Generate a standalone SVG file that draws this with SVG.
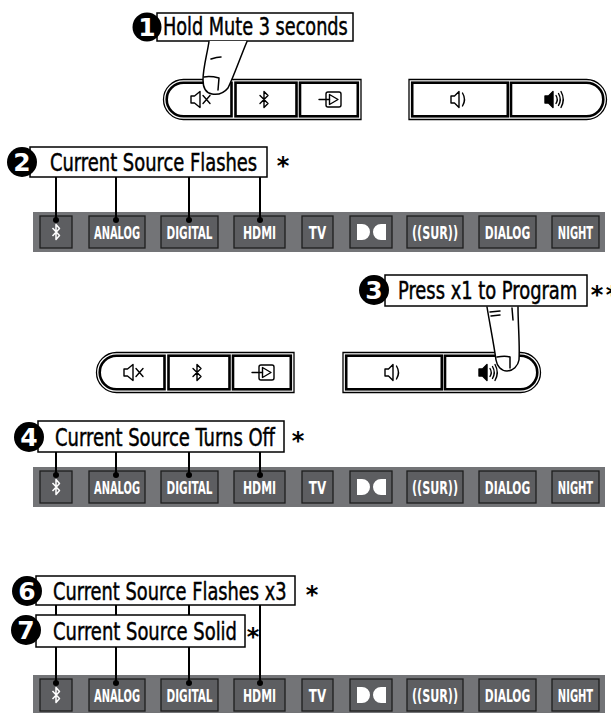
<svg xmlns="http://www.w3.org/2000/svg" xmlns:xlink="http://www.w3.org/1999/xlink" width="611" height="713" viewBox="0 0 611 713">
  <style>
    .lbl { fill:#fff; stroke:#000; stroke-width:1.5; }
    .lbltxt { font-family:"DejaVu Sans Condensed","DejaVu Sans",sans-serif; font-size:24px; fill:#000; stroke:#000; stroke-width:0.45; }
    .badge { fill:#000; }
    .num { font-family:"DejaVu Sans","Liberation Sans",sans-serif; font-weight:bold; font-size:25px; fill:#fff; text-anchor:middle; }
    .star { font-family:"DejaVu Sans",sans-serif; font-weight:bold; font-size:24px; fill:#000; text-anchor:middle; }
    .bar { fill:#737477; }
    .btn { fill:#5d5e61; stroke:#1e1e1e; stroke-width:1.3; }
    .btntxt { font-family:"DejaVu Sans Condensed","DejaVu Sans",sans-serif; font-weight:bold; font-size:18px; fill:#fff; text-anchor:middle; }
    .wicon { fill:none; stroke:#fff; stroke-width:1.5; stroke-linejoin:round; }
    .outer { fill:#fff; stroke:#000; stroke-width:1.3; }
    .key { fill:none; stroke:#000; stroke-width:2.6; }
    .icon { fill:none; stroke:#000; stroke-width:1.4; stroke-linejoin:round; stroke-linecap:round; }
    .wire { fill:none; stroke:#000; stroke-width:2; }
    .finger { fill:#fff; stroke:none; }
    .fline { fill:none; stroke:#000; stroke-width:1.5; stroke-linecap:round; stroke-linejoin:round; }
  </style>
  <defs>
    <!-- left keypad: mute, bluetooth, input -->
    <g id="padL">
      <path class="outer" d="M20.5,0 H198 V40 H20.5 A20 20 0 0 1 20.5,0 Z"/>
      <path class="key" d="M20.5,3.2 H68.5 V36.8 H20.5 A16.8 16.8 0 0 1 20.5,3.2 Z"/>
      <rect class="key" x="72.5" y="3.2" width="61" height="33.6"/>
      <rect class="key" x="137" y="3.2" width="57.8" height="33.6"/>
      <g class="icon" transform="translate(38,20)">
        <path d="M-10,-3.5 H-6.5 L-1,-8 V8 L-6.5,3.5 H-10 Z"/>
        <path d="M2,-4 L9,4 M9,-4 L2,4"/>
      </g>
      <path class="icon" transform="translate(101,20)" d="M-4,-4 L4,4 L0,8 V-8 L4,-4 L-4,4"/>
      <g class="icon" transform="translate(167,20)">
        <rect x="-4" y="-7.5" width="15" height="15" rx="2"/>
        <path d="M-0.5,-5 L8,0 L-0.5,5 Z"/>
        <path d="M-11,0 H-0.5"/>
      </g>
    </g>
    <!-- right keypad: volume down, volume up -->
    <g id="padR">
      <path class="outer" d="M0,0 H177.5 A20 20 0 0 1 177.5,40 H0 Z"/>
      <rect class="key" x="3.2" y="3.2" width="95.6" height="33.6"/>
      <path class="key" d="M102,3.2 H177.5 A16.8 16.8 0 0 1 177.5,36.8 H102 Z"/>
      <g class="icon" transform="translate(50,20)">
        <path d="M-8,-3.5 H-4.5 L0,-8 V8 L-4.5,3.5 H-8 Z"/>
        <path d="M3.5,-6.5 Q7.5,0 3.5,6.5"/>
      </g>
      <g class="icon" transform="translate(144,20)">
        <path d="M-8,-3.5 H-4.5 L0,-8 V8 L-4.5,3.5 H-8 Z" fill="#000"/>
        <path d="M3,-4 Q5.5,0 3,4 M5.5,-6 Q9,0 5.5,6 M8,-8 Q12.5,0 8,8"/>
      </g>
    </g>
    <!-- source indicator strip -->
    <g id="strip">
      <rect class="bar" x="33" y="0" width="572" height="40"/>
      <rect class="btn" x="40" y="4" width="32" height="32"/>
      <path class="wicon" transform="translate(56,20)" d="M-3.5,-4 L3.5,3.5 L0,7.5 V-7.5 L3.5,-3.5 L-3.5,4"/>
      <rect class="btn" x="89" y="4" width="56" height="32"/>
      <text class="btntxt" transform="translate(117,26.5) scale(0.72,1)" textLength="64" lengthAdjust="spacingAndGlyphs">ANALOG</text>
      <rect class="btn" x="161" y="4" width="57" height="32"/>
      <text class="btntxt" transform="translate(189.5,26.5) scale(0.72,1)" textLength="64" lengthAdjust="spacingAndGlyphs">DIGITAL</text>
      <rect class="btn" x="234" y="4" width="51" height="32"/>
      <text class="btntxt" transform="translate(259.5,26.5) scale(0.72,1)" textLength="46" lengthAdjust="spacingAndGlyphs">HDMI</text>
      <rect class="btn" x="302" y="4" width="31" height="32"/>
      <text class="btntxt" transform="translate(317.5,26.5) scale(0.72,1)" textLength="24" lengthAdjust="spacingAndGlyphs">TV</text>
      <rect class="btn" x="350" y="4" width="42" height="32"/>
      <path fill="#fff" d="M357,12 H362 A8 8 0 0 1 362,28 H357 Z M386,12 H381 A8 8 0 0 0 381,28 H386 Z"/>
      <rect class="btn" x="407" y="4" width="56" height="32"/>
      <text class="btntxt" transform="translate(435,26.5) scale(0.72,1)" textLength="64" lengthAdjust="spacingAndGlyphs">((SUR))</text>
      <rect class="btn" x="479" y="4" width="57" height="32"/>
      <text class="btntxt" transform="translate(507.5,26.5) scale(0.72,1)" textLength="63" lengthAdjust="spacingAndGlyphs">DIALOG</text>
      <rect class="btn" x="552" y="4" width="47" height="32"/>
      <text class="btntxt" transform="translate(575.5,26.5) scale(0.72,1)" textLength="49" lengthAdjust="spacingAndGlyphs">NIGHT</text>
    </g>
  </defs>

  <!-- keypads -->
  <g id="keypad-top-left"><use xlink:href="#padL" href="#padL" transform="translate(163,79.5)"/></g>
  <g id="keypad-top-right"><use xlink:href="#padR" href="#padR" transform="translate(409,79.5)"/></g>
  <g id="keypad-bottom-left"><use xlink:href="#padL" href="#padL" transform="translate(96,352.5)"/></g>
  <g id="keypad-bottom-right"><use xlink:href="#padR" href="#padR" transform="translate(343,352.5)"/></g>

  <!-- indicator strips -->
  <g id="strip-1"><use xlink:href="#strip" href="#strip" transform="translate(0,212)"/></g>
  <g id="strip-2"><use xlink:href="#strip" href="#strip" transform="translate(0,467)"/></g>
  <g id="strip-3"><use xlink:href="#strip" href="#strip" transform="translate(0,675)"/></g>

  <!-- connectors from labels to indicators -->
  <g id="connectors">
    <path class="wire" d="M56,177 V220 M116,177 V220 M189,177 V220 M260,177 V220"/>
    <g fill="#000"><circle cx="56" cy="220" r="3"/><circle cx="116" cy="220" r="3"/><circle cx="189" cy="220" r="3"/><circle cx="260" cy="220" r="3"/></g>
    <path class="wire" d="M56,452 V475 M116,452 V475 M189,452 V475 M260,452 V475"/>
    <g fill="#000"><circle cx="56" cy="475" r="3"/><circle cx="116" cy="475" r="3"/><circle cx="189" cy="475" r="3"/><circle cx="260" cy="475" r="3"/></g>
    <path class="wire" d="M56,605 V615 M116,605 V615 M189,605 V615 M260,605 V683 M56,647 V683 M116,647 V683 M189,647 V683"/>
    <g fill="#000"><circle cx="56" cy="683" r="3"/><circle cx="116" cy="683" r="3"/><circle cx="189" cy="683" r="3"/><circle cx="260" cy="683" r="3"/></g>
  </g>

  <!-- step 1 -->
  <g id="step-1">
    <rect class="lbl" x="157" y="13" width="196" height="28"/>
    <circle class="badge" cx="147" cy="27" r="14.5"/>
    <text class="num" x="147" y="36">1</text>
    <text class="lbltxt" transform="translate(163,35) scale(0.8,1)" textLength="231" lengthAdjust="spacingAndGlyphs">Hold Mute 3 seconds</text>
  </g>
  <!-- finger pressing mute -->
  <g id="finger-1">
    <path class="finger" d="M209,41 C207,55 203,68 203,80 C203,88 206,93 212,94 C218,95 224,93 228,88 C234,76 240,58 247,41 Z"/>
    <path class="fline" d="M209,41.5 C207,55 203,68 203,80 C203,88 206,93 212,94 C218,95 224,93 228,88 C234,76 240,58 247,41.5"/>
    <path class="fline" d="M204,77 C210,76 215,77 219,78 L218,90"/>
    <path class="fline" d="M211,59 C214,58 218,57 221,57"/>
  </g>

  <!-- step 2 -->
  <g id="step-2">
    <rect class="lbl" x="30" y="147" width="237" height="30"/>
    <circle class="badge" cx="22" cy="162" r="15"/>
    <text class="num" x="22" y="171">2</text>
    <text class="lbltxt" transform="translate(50,171) scale(0.8,1)" textLength="259" lengthAdjust="spacingAndGlyphs">Current Source Flashes</text>
    <text class="star" x="283" y="174">*</text>
  </g>

  <!-- step 3 -->
  <g id="step-3">
    <rect class="lbl" x="385" y="275" width="202" height="31"/>
    <circle class="badge" cx="374" cy="290" r="15"/>
    <text class="num" x="374" y="299">3</text>
    <text class="lbltxt" transform="translate(398,299) scale(0.8,1)" textLength="224" lengthAdjust="spacingAndGlyphs">Press x1 to Program</text>
    <text class="star" x="597" y="303">*</text>
    <text class="star" x="612" y="303">*</text>
  </g>
  <!-- finger pressing volume up -->
  <g id="finger-3">
    <path class="finger" d="M487,307 C490,325 494,345 496,360 C497,366 501,371 507,371 C513,371 518,366 519,360 C520,345 518,325 518,307 Z"/>
    <path class="fline" d="M487,307 C490,325 494,345 496,360 C497,366 501,371 507,371 C513,371 518,366 519,360 C520,345 518,325 518,307"/>
    <path class="fline" d="M497,357 C502,356 507,356 510,357 L510,368"/>
    <path class="fline" d="M490,312 L500,311 M491,316 L500,315 M512,308 L513,320"/>
  </g>

  <!-- step 4 -->
  <g id="step-4">
    <rect class="lbl" x="38" y="421" width="246" height="31"/>
    <circle class="badge" cx="29" cy="437" r="15"/>
    <text class="num" x="29" y="446">4</text>
    <text class="lbltxt" transform="translate(55,446) scale(0.8,1)" textLength="275" lengthAdjust="spacingAndGlyphs">Current Source Turns Off</text>
    <text class="star" x="298" y="449">*</text>
  </g>

  <!-- step 6 -->
  <g id="step-6">
    <rect class="lbl" x="36" y="576" width="259" height="29"/>
    <circle class="badge" cx="27" cy="591" r="15"/>
    <text class="num" x="27" y="600">6</text>
    <text class="lbltxt" transform="translate(53,600) scale(0.8,1)" textLength="292" lengthAdjust="spacingAndGlyphs">Current Source Flashes x3</text>
    <text class="star" x="312" y="603">*</text>
  </g>

  <!-- step 7 -->
  <g id="step-7">
    <rect class="lbl" x="36" y="615" width="209" height="32"/>
    <circle class="badge" cx="26" cy="630" r="15"/>
    <text class="num" x="26" y="639">7</text>
    <text class="lbltxt" transform="translate(53,640) scale(0.8,1)" textLength="230" lengthAdjust="spacingAndGlyphs">Current Source Solid</text>
    <text class="star" x="253" y="645">*</text>
  </g>
</svg>
